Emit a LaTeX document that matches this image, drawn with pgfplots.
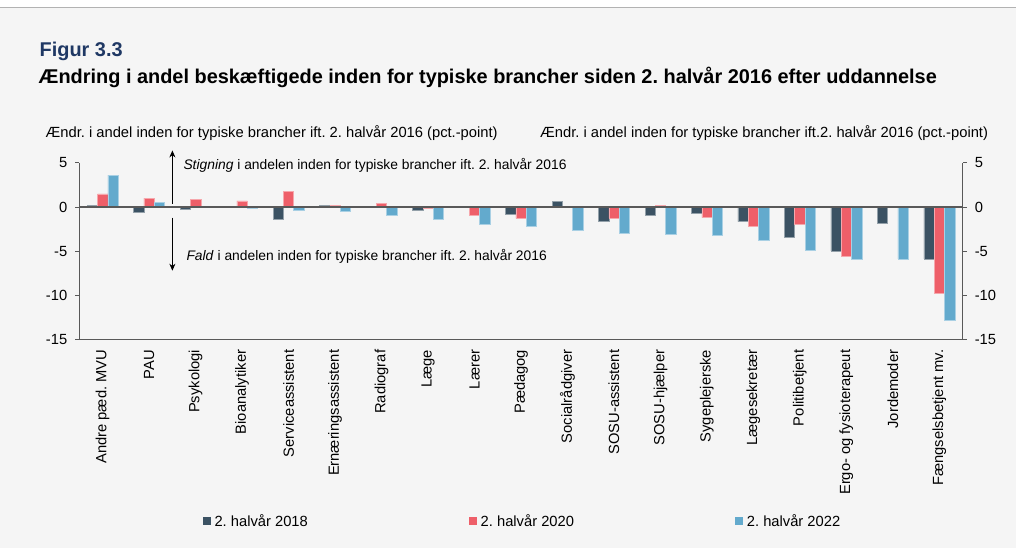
\documentclass[border=0pt]{standalone}
\usepackage{fontspec}
\setmainfont{Liberation Sans}
\usepackage{pgfplots}
\usepackage{pgfplotstable}
\pgfplotsset{compat=1.18}
\usetikzlibrary{arrows.meta}
\definecolor{bg}{HTML}{F5F5F5}
\definecolor{c18}{HTML}{3B5263}
\definecolor{c20}{HTML}{EE5F69}
\definecolor{c22}{HTML}{63AACD}
\definecolor{axc}{HTML}{595959}
\definecolor{navy}{HTML}{1F3864}
\newcommand\lf{\fontsize{14.8}{17}\selectfont}
\newcommand\af{\fontsize{13.9}{16}\selectfont}

\pgfplotstableread{
x a b c
0 0.2 1.5 3.6
1 -0.6 1.0 0.5
2 -0.2 0.9 0.05
3 -0.05 0.7 -0.15
4 -1.4 1.8 -0.4
5 0.2 0.2 -0.5
6 0.05 0.45 -0.95
7 -0.35 -0.1 -1.4
8 0.0 -0.95 -2.0
9 -0.87 -1.27 -2.17
10 0.64 -0.05 -2.66
11 -1.57 -1.24 -2.96
12 -0.98 0.19 -3.07
13 -0.75 -1.2 -3.22
14 -1.65 -2.2 -3.75
15 -3.4 -1.95 -4.84
16 -4.95 -5.6 -5.9
17 -1.8 -0.05 -5.85
18 -5.85 -9.7 -12.8
}\data

\begin{document}
\frenchspacing
\begin{tikzpicture}[x=1bp,y=1bp]
\fill[bg] (0,0) rectangle (1016,549);
\fill[white] (0,542) rectangle (1016,549);
\draw[black!30, line width=1bp] (0,541.5) -- (1016,541.5);
\node[anchor=base west, inner sep=0pt, font=\fontsize{20}{24}\selectfont\bfseries, text=navy] at (39,492) {Figur 3.3};
\node[anchor=base west, inner sep=0pt, font=\fontsize{20}{24}\selectfont\bfseries] at (38,465) {Ændring i andel beskæftigede inden for typiske brancher siden 2. halvår 2016 efter uddannelse};
\node[anchor=base west, inner sep=0pt, font=\lf] at (45,411) {Ændr. i andel inden for typiske brancher ift. 2. halvår 2016 (pct.-point)};
\node[anchor=base west, inner sep=0pt, font=\lf] at (540,411) {Ændr. i andel inden for typiske brancher ift.2. halvår 2016 (pct.-point)};

\begin{axis}[
  at={(79bp,209bp)}, anchor=south west,
  scale only axis, width=884bp, height=177bp,
  xmin=-0.5, xmax=18.5, ymin=-15, ymax=5,
  axis x line*=bottom, axis y line*=left,
  axis line style={axc, line width=0.9bp},
  ybar=0pt, bar width=10.3bp,
  clip=false,
  tick align=outside,
  major tick length=4bp,
  minor tick length=5bp,
  tick style={axc, line width=0.9bp},
  xtick={0,...,18},
  xtick style={draw=none},
  minor xtick={-0.5,0.5,...,18.5},
  xticklabels={Andre pæd. MVU,PAU,Psykologi,Bioanalytiker,Serviceassistent,Ernæringsassistent,Radiograf,Læge,Lærer,Pædagog,Socialrådgiver,SOSU-assistent,SOSU-hjælper,Sygeplejerske,Lægesekretær,Politibetjent,Ergo- og fysioterapeut,Jordemoder,Fængselsbetjent mv.},
  xticklabel style={rotate=90, anchor=east, inner sep=0pt, font=\lf},
  xticklabel shift=6bp,
  ytick={-15,-10,-5,0,5},
  yticklabels={-15,-10,-5,0,5},
  yticklabel style={inner sep=0pt, font=\lf},
  yticklabel shift=8bp,
  legend style={draw=none, fill=none, legend columns=3, at={(0.1358,-1.028)}, anchor=west,
    font=\lf, nodes={inner sep=0pt},
    /tikz/every odd column/.append style={column sep=4bp},
    /tikz/every even column/.append style={column sep=161bp}},
  legend image code/.code={\fill[#1, draw=none] (0bp,-4bp) rectangle (8bp,4bp);},
]
\addplot[fill=c18, draw=c18!55!white, line width=0.5bp] table[x=x,y=a]{\data};
\addplot[fill=c20, draw=c20!55!white, line width=0.5bp] table[x=x,y=b]{\data};
\addplot[fill=c22, draw=c22!55!white, line width=0.5bp] table[x=x,y=c]{\data};
\legend{2. halvår 2018,2. halvår 2020,2. halvår 2022}
\draw[axc, line width=1.3bp] (axis cs:-0.5,0) -- (axis cs:18.5,0);
\draw[-{Stealth[length=7bp,width=6bp]}, black, line width=0.8bp] (axis cs:1.5,0.4) -- (axis cs:1.5,6.4);
\draw[-{Stealth[length=7bp,width=6bp]}, black, line width=0.8bp] (axis cs:1.5,-1.2) -- (axis cs:1.5,-7.2);
\node[anchor=west, inner sep=0pt, font=\af] at (axis cs:1.735,4.7) {\textit{Stigning} i andelen inden for typiske brancher ift. 2. halvår 2016};
\node[anchor=west, inner sep=0pt, font=\af] at (axis cs:1.80,-5.62) {\textit{Fald} i andelen inden for typiske brancher ift. 2. halvår 2016};
\end{axis}

\begin{axis}[
  at={(79bp,209bp)}, anchor=south west,
  scale only axis, width=884bp, height=177bp,
  xmin=-0.5, xmax=18.5, ymin=-15, ymax=5,
  axis x line=none, axis y line*=right,
  axis line style={axc, line width=0.9bp},
  tick align=outside, major tick length=4bp,
  tick style={axc, line width=0.9bp},
  ytick={-15,-10,-5,0,5},
  yticklabels={-15,-10,-5,0,5},
  yticklabel style={inner sep=0pt, font=\lf},
  yticklabel shift=8bp,
]
\addplot[draw=none] coordinates {(0,0)};
\end{axis}
\end{tikzpicture}
\end{document}
